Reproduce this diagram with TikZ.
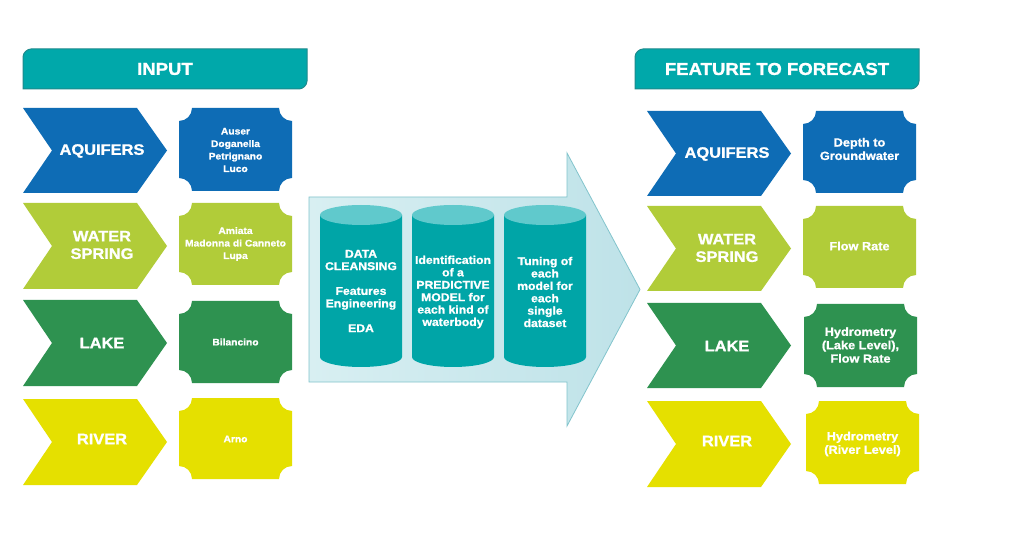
\documentclass[tikz,border=0pt]{standalone}
\usepackage{fontspec}
\setmainfont{Liberation Sans}[BoldFeatures={FakeStretch=1.08,FakeBold=1.2}]
\definecolor{aqblue}{RGB}{14,108,181}
\definecolor{lgreen}{RGB}{177,204,57}
\definecolor{dgreen}{RGB}{46,146,80}
\definecolor{yel}{RGB}{229,224,0}
\definecolor{hdrteal}{RGB}{0,168,170}
\definecolor{hdrline}{RGB}{30,138,140}
\definecolor{cylbody}{RGB}{0,165,167}
\definecolor{cyltop}{RGB}{96,201,204}
\definecolor{arrfillA}{RGB}{216,239,242}
\definecolor{arrfillB}{RGB}{190,226,232}
\definecolor{arrline}{RGB}{130,196,204}
\newcommand\mychev[4]{% x0, ytop, ybot, colour
  \fill[#4] (#1,#2) -- ({#1+114},#2) -- ({#1+144},{(#2+#3)/2}) -- ({#1+114},#3) -- (#1,#3) -- ({#1+29},{(#2+#3)/2}) -- cycle;}
\newcommand\myticket[5]{% x0, y0, x1, y1, colour
  \fill[#5] ({#1+13},#2) -- ({#3-13},#2)
    .. controls ({#3-13},{#2+7.2}) and ({#3-7.2},{#2+13}) .. (#3,{#2+13})
    -- (#3,{#4-13})
    .. controls ({#3-7.2},{#4-13}) and ({#3-13},{#4-7.2}) .. ({#3-13},#4)
    -- ({#1+13},#4)
    .. controls ({#1+13},{#4-7.2}) and ({#1+7.2},{#4-13}) .. (#1,{#4-13})
    -- (#1,{#2+13})
    .. controls ({#1+7.2},{#2+13}) and ({#1+13},{#2+7.2}) .. ({#1+13},#2) -- cycle;}
\newcommand\mycyl[2]{% x0, x1
  \fill[cylbody] (#1,215) -- (#1,357)
    .. controls (#1,362.5) and ({(#1+#2)/2-22.6},367) .. ({(#1+#2)/2},367)
    .. controls ({(#1+#2)/2+22.6},367) and (#2,362.5) .. (#2,357)
    -- (#2,215) -- cycle;
  \fill[cyltop] ({(#1+#2)/2},215) ellipse [x radius=41pt, y radius=10pt];}
\newcommand\myheader[2]{% x0, x1
  \filldraw[fill=hdrteal, draw=hdrline, line width=1pt] (#1,89) -- (#1,57)
    .. controls (#1,52.6) and ({#1+4.4},49) .. ({#1+8},49) -- (#2,49) -- (#2,81)
    .. controls (#2,85.4) and ({#2-4.4},89) .. ({#2-8},89) -- cycle;}
\begin{document}
\begin{tikzpicture}[x=1pt,y=-1pt,
  hdrtxt/.style={text=white,font=\bfseries\fontsize{17.2}{20}\selectfont},
  chevtxt/.style={text=white,align=center,font=\bfseries\fontsize{15.2}{17.5}\selectfont},
  lbox/.style={text=white,align=center,font=\bfseries\fontsize{9.5}{12.5}\selectfont},
  rbox/.style={text=white,align=center,font=\bfseries\fontsize{11.8}{13.4}\selectfont},
  cyltxt/.style={text=white,align=center,font=\bfseries\fontsize{11.3}{12.4}\selectfont}]
\useasboundingbox (0,0) rectangle (1015,553);
\fill[white] (0,0) rectangle (1015,553);
% headers
\myheader{23}{307}
\node[hdrtxt] (inp) at (165,69) {INPUT};
\myheader{635}{919}
\node[hdrtxt] (ftf) at (777,69) {FEATURE TO FORECAST};
% left column
\mychev{23}{108}{193}{aqblue}
\node[chevtxt] (laq) at (102,151) {AQUIFERS};
\myticket{179}{108}{292}{191}{aqblue}
\node[lbox] (laqb) at (235.5,150) {Auser\\Doganella\\Petrignano\\Luco};
\mychev{23}{203}{289}{lgreen}
\node[chevtxt] (lws) at (102,245) {WATER\\SPRING};
\myticket{179}{203}{292}{285}{lgreen}
\node[lbox] (lwsb) at (235.5,244) {Amiata\\Madonna di Canneto\\Lupa};
\mychev{23}{300}{386}{dgreen}
\node[chevtxt] (llk) at (102,343) {LAKE};
\myticket{179}{301}{292}{383}{dgreen}
\node[lbox] (llkb) at (235.5,342) {Bilancino};
\mychev{23}{399}{485}{yel}
\node[chevtxt] (lrv) at (102,439) {RIVER};
\myticket{179}{398}{292}{479}{yel}
\node[lbox] (lrvb) at (235.5,439) {Arno};
% big arrow
\draw[arrline, line width=0.8pt, left color=arrfillA, right color=arrfillB]
  (309,197) -- (567,197) -- (567,153) -- (640,289.5) -- (567,426) -- (567,382) -- (309,382) -- cycle;
\mycyl{320}{402}
\mycyl{412}{494}
\mycyl{504}{586}
\node[cyltxt] (c1) at (361,291) {DATA\\CLEANSING\\[12.4pt]Features\\Engineering\\[12.4pt]EDA};
\node[cyltxt] (c2) at (453,292) {Identification\\of a\\PREDICTIVE\\MODEL for\\each kind of\\waterbody};
\node[cyltxt] (c3) at (545,292) {Tuning of\\each\\model for\\each\\single\\dataset};
% right column
\mychev{647}{111}{196}{aqblue}
\node[chevtxt] (raq) at (727,154) {AQUIFERS};
\myticket{803}{111}{916}{193}{aqblue}
\node[rbox] (raqb) at (859.5,149) {Depth to\\Groundwater};
\mychev{647}{206}{291}{lgreen}
\node[chevtxt] (rws) at (727,248) {WATER\\SPRING};
\myticket{803}{206}{916}{288}{lgreen}
\node[rbox] (rwsb) at (859.5,246) {Flow Rate};
\mychev{647}{303}{388}{dgreen}
\node[chevtxt] (rlk) at (727,346) {LAKE};
\myticket{804}{304}{917}{387}{dgreen}
\node[rbox] (rlkb) at (860.5,345) {Hydrometry\\(Lake Level),\\Flow Rate};
\mychev{647}{401}{487}{yel}
\node[chevtxt] (rrv) at (727,441) {RIVER};
\myticket{806}{401}{919}{484}{yel}
\node[rbox] (rrvb) at (862.5,444) {Hydrometry\\(River Level)};
\end{tikzpicture}
\end{document}
